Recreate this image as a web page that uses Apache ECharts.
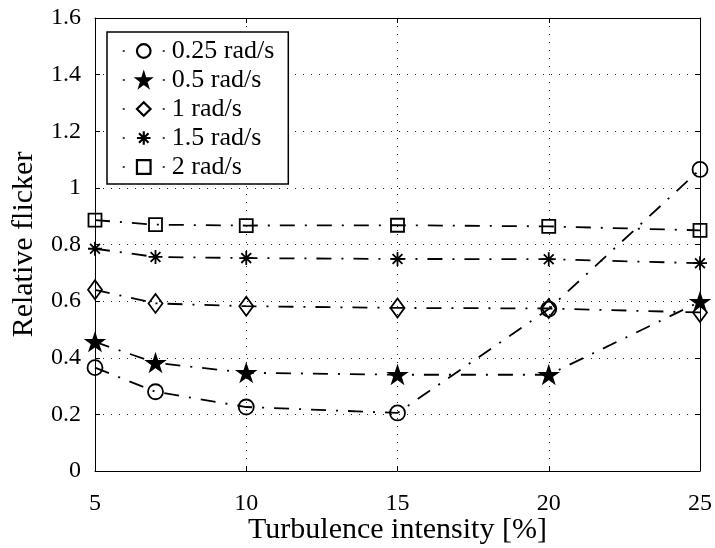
<!DOCTYPE html>
<html>
<head>
	<meta http-equiv="Content-Type" content="text/html;charset=utf-8">
	<title>Relative flicker</title>
	<style>
		html, body{
			margin: 0;
			padding: 0;
			background: #fff;
		}
		#chart{
			width: 715px;
			height: 548px;
		}
	</style>
</head>
<body>
<div id="chart"></div>
<script src="https://cdn.jsdelivr.net/npm/echarts@6/dist/echarts.min.js"></script>
<script>
	// turbulence intensity [%]
	var turbulence = [5, 7, 10, 15, 20, 25];

	// relative flicker, one array per rotor speed
	var rad025 = [0.365, 0.280, 0.226, 0.205, 0.572, 1.065];
	var rad05 = [0.456, 0.382, 0.347, 0.340, 0.340, 0.598];
	var rad1 = [0.640, 0.592, 0.582, 0.576, 0.574, 0.560];
	var rad15 = [0.785, 0.756, 0.752, 0.749, 0.748, 0.734];
	var rad2 = [0.886, 0.870, 0.867, 0.868, 0.864, 0.850];

	var seriesNames = ['0.25 rad/s', '0.5 rad/s', '1 rad/s', '1.5 rad/s', '2 rad/s'];

	var font = 'Liberation Serif, Times New Roman, serif';
	var dashDot = [15, 10, 2, 10];

	var starPath = 'path://M10 0 L12.25 6.91 L19.51 6.91 L13.63 11.18 L15.88 18.09 L10 13.82 L4.12 18.09 L6.37 11.18 L0.49 6.91 L7.75 6.91 Z';
	var asteriskPath = 'path://M10 0 L10 20 M0 10 L20 10 M3 3 L17 17 M3 17 L17 3';

	function pairs(ys){
		var out = [];
		for(var i = 0; i < turbulence.length; i++){
			out.push([turbulence[i], ys[i]]);
		}
		return out;
	}

	function makeSeries(name, ys, symbol, size, filled){
		return {
			name : name,
			type : 'line',
			data : pairs(ys),
			symbol : symbol,
			symbolSize : size,
			symbolKeepAspect : true,
			showAllSymbol : true,
			lineStyle : {
				color : '#000',
				width : 1.8,
				type : dashDot
			},
			itemStyle : {
				color : filled ? '#000' : 'none',
				borderColor : '#000',
				borderWidth : 1.8
			},
			emphasis : { disabled : true },
			animation : false
		};
	}

	var values = [
		makeSeries(seriesNames[0], rad025, 'circle', 15, false),
		makeSeries(seriesNames[1], rad05, starPath, 17, true),
		makeSeries(seriesNames[2], rad1, 'diamond', [14, 19], false),
		makeSeries(seriesNames[3], rad15, asteriskPath, 14, false),
		makeSeries(seriesNames[4], rad2, 'rect', 13, false)
	];

	var gridDots = {
		show : true,
		lineStyle : { color : '#222', width : 1, type : [1, 7] }
	};

	var option = {
		animation : false,
		grid : {
			left : 95,
			right : 15,
			top : 18,
			bottom : 77,
			containLabel : false,
			outerBoundsMode : 'none'
		},
		legend : {
			data : seriesNames,
			orient : 'vertical',
			left : 107,
			top : 32,
			padding : [6, 14, 4, 13],
			itemWidth : 46,
			itemHeight : 17,
			itemGap : 3,
			backgroundColor : '#fff',
			borderColor : '#000',
			borderWidth : 1.5,
			borderRadius : 0,
			// only two dots of the dash-dot line show beside each marker
			lineStyle : { type : [2, 38], dashOffset : -2, width : 1.5 },
			itemStyle : { borderWidth : 2.2 },
			textStyle : {
				fontFamily : font,
				fontSize : 26,
				color : '#000'
			}
		},
		xAxis : [
			{
				type : 'value',
				min : 5,
				max : 25,
				interval : 5,
				name : 'Turbulence intensity [%]',
				nameLocation : 'middle',
				nameGap : 44,
				nameMoveOverlap : false,
				nameTextStyle : { fontFamily : font, fontSize : 30, color : '#000' },
				axisLine : { onZero : false, lineStyle : { color : '#000', width : 1 } },
				axisTick : { inside : true, length : 5, lineStyle : { color : '#000' } },
				axisLabel : { fontFamily : font, fontSize : 24, color : '#000', margin : 21 },
				splitLine : gridDots
			},
			{
				type : 'value',
				position : 'top',
				min : 5,
				max : 25,
				interval : 5,
				axisLine : { onZero : false, lineStyle : { color : '#000', width : 1 } },
				axisTick : { inside : true, length : 5, lineStyle : { color : '#000' } },
				axisLabel : { show : false },
				splitLine : { show : false }
			}
		],
		yAxis : [
			{
				type : 'value',
				min : 0,
				max : 1.6,
				interval : 0.2,
				name : 'Relative flicker',
				nameLocation : 'middle',
				nameGap : 56,
				nameMoveOverlap : false,
				nameTextStyle : { fontFamily : font, fontSize : 30, color : '#000' },
				axisLine : { show : true, onZero : false, lineStyle : { color : '#000', width : 1 } },
				axisTick : { show : true, inside : true, length : 5, lineStyle : { color : '#000' } },
				axisLabel : { fontFamily : font, fontSize : 24, color : '#000', margin : 14 },
				splitLine : gridDots
			},
			{
				type : 'value',
				position : 'right',
				min : 0,
				max : 1.6,
				interval : 0.2,
				axisLine : { show : true, onZero : false, lineStyle : { color : '#000', width : 1 } },
				axisTick : { show : true, inside : true, length : 5, lineStyle : { color : '#000' } },
				axisLabel : { show : false },
				splitLine : { show : false }
			}
		],
		series : values
	};

	var myChart = echarts.init(document.getElementById('chart'), null, { renderer : 'canvas' });
	myChart.setOption(option);
</script>
</body>
</html>
